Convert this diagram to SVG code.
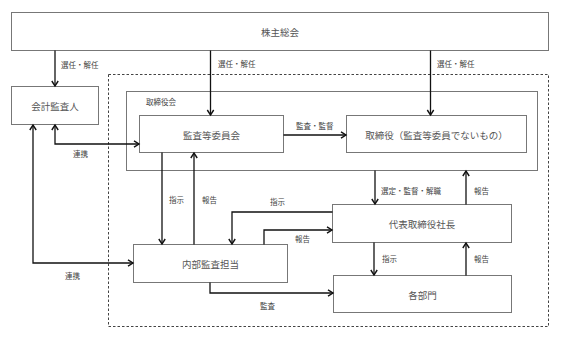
<svg xmlns="http://www.w3.org/2000/svg" width="567" height="343" viewBox="0 0 567 343">
<defs>
<marker id="ah" markerUnits="userSpaceOnUse" markerWidth="10" markerHeight="10" refX="6" refY="4" orient="auto-start-reverse" viewBox="0 0 10 8">
<path d="M1,0.8 L6,4 L1,7.2" fill="none" stroke="#111" stroke-width="1.4"/>
</marker>
<style>
.box{fill:#fff;stroke:#777;stroke-width:1}
.t{font-family:"Noto Sans CJK JP","Liberation Serif",serif;font-size:9.5px;fill:#555;text-anchor:middle;dominant-baseline:central}
.l{font-family:"Noto Sans CJK JP","Liberation Serif",serif;font-size:7.5px;fill:#444;dominant-baseline:central}
.c{fill:none;stroke:#111;stroke-width:1.3}
</style>
</defs>
<rect width="567" height="343" fill="#fff"/>
<rect x="108.5" y="74.5" width="440" height="252" fill="none" stroke="#444" stroke-width="1" stroke-dasharray="2.5,2"/>
<g id="kabunushi"><rect class="box" x="11.5" y="12.5" width="537" height="38"/><text class="t" x="280" y="32">株主総会</text></g>
<g id="kaikei"><rect class="box" x="11.5" y="86.5" width="87" height="38"/><text class="t" x="55" y="106">会計監査人</text></g>
<g id="torishimariyakukai"><rect class="box" x="126.5" y="91.5" width="411" height="79"/><text class="l" x="146" y="101">取締役会</text></g>
<g id="kansa"><rect class="box" x="139.5" y="115.5" width="144" height="37"/><text class="t" x="211.5" y="134.5">監査等委員会</text></g>
<g id="torishimariyaku"><rect class="box" x="346.5" y="115.5" width="180" height="37"/><text class="t" x="436.5" y="134.5">取締役（監査等委員でないもの）</text></g>
<g id="daihyo"><rect class="box" x="332.5" y="204.5" width="179" height="38"/><text class="t" x="422" y="224">代表取締役社長</text></g>
<g id="naibu"><rect class="box" x="133.5" y="244.5" width="154" height="38"/><text class="t" x="210.5" y="264">内部監査担当</text></g>
<g id="kakubumon"><rect class="box" x="333.5" y="275.5" width="178" height="37"/><text class="t" x="422.5" y="294.5">各部門</text></g>
<g id="connectors">
<path class="c" d="M55,50.5 V86" marker-end="url(#ah)"/>
<path class="c" d="M210.5,50.5 V115" marker-end="url(#ah)"/>
<path class="c" d="M430.5,50.5 V115" marker-end="url(#ah)"/>
<path class="c" d="M283.5,135 H346" marker-end="url(#ah)"/>
<path class="c" d="M55,125 V144 H139" marker-start="url(#ah)" marker-end="url(#ah)"/>
<path class="c" d="M33,125 V263 H133" marker-start="url(#ah)" marker-end="url(#ah)"/>
<path class="c" d="M162,152.5 V244" marker-end="url(#ah)"/>
<path class="c" d="M194,244.5 V153" marker-end="url(#ah)"/>
<path class="c" d="M332.5,212 H232 V244" marker-end="url(#ah)"/>
<path class="c" d="M264,244.5 V230 H332" marker-end="url(#ah)"/>
<path class="c" d="M375,170.5 V204" marker-end="url(#ah)"/>
<path class="c" d="M466,204.5 V171" marker-end="url(#ah)"/>
<path class="c" d="M374,242.5 V275" marker-end="url(#ah)"/>
<path class="c" d="M466,275.5 V243" marker-end="url(#ah)"/>
<path class="c" d="M210,282.5 V293 H333" marker-end="url(#ah)"/>
</g>
<g id="labels">
<text class="l" x="61" y="64">選任・解任</text>
<text class="l" x="218" y="63">選任・解任</text>
<text class="l" x="437" y="63">選任・解任</text>
<text class="l" x="296" y="125">監査・監督</text>
<text class="l" x="73" y="153.5">連携</text>
<text class="l" x="65" y="275">連携</text>
<text class="l" x="169" y="199">指示</text>
<text class="l" x="202" y="199">報告</text>
<text class="l" x="270" y="201">指示</text>
<text class="l" x="295" y="238.5">報告</text>
<text class="l" x="381" y="190">選定・監督・解職</text>
<text class="l" x="474" y="190">報告</text>
<text class="l" x="382" y="258">指示</text>
<text class="l" x="474" y="258">報告</text>
<text class="l" x="260" y="305">監査</text>
</g>
</svg>
